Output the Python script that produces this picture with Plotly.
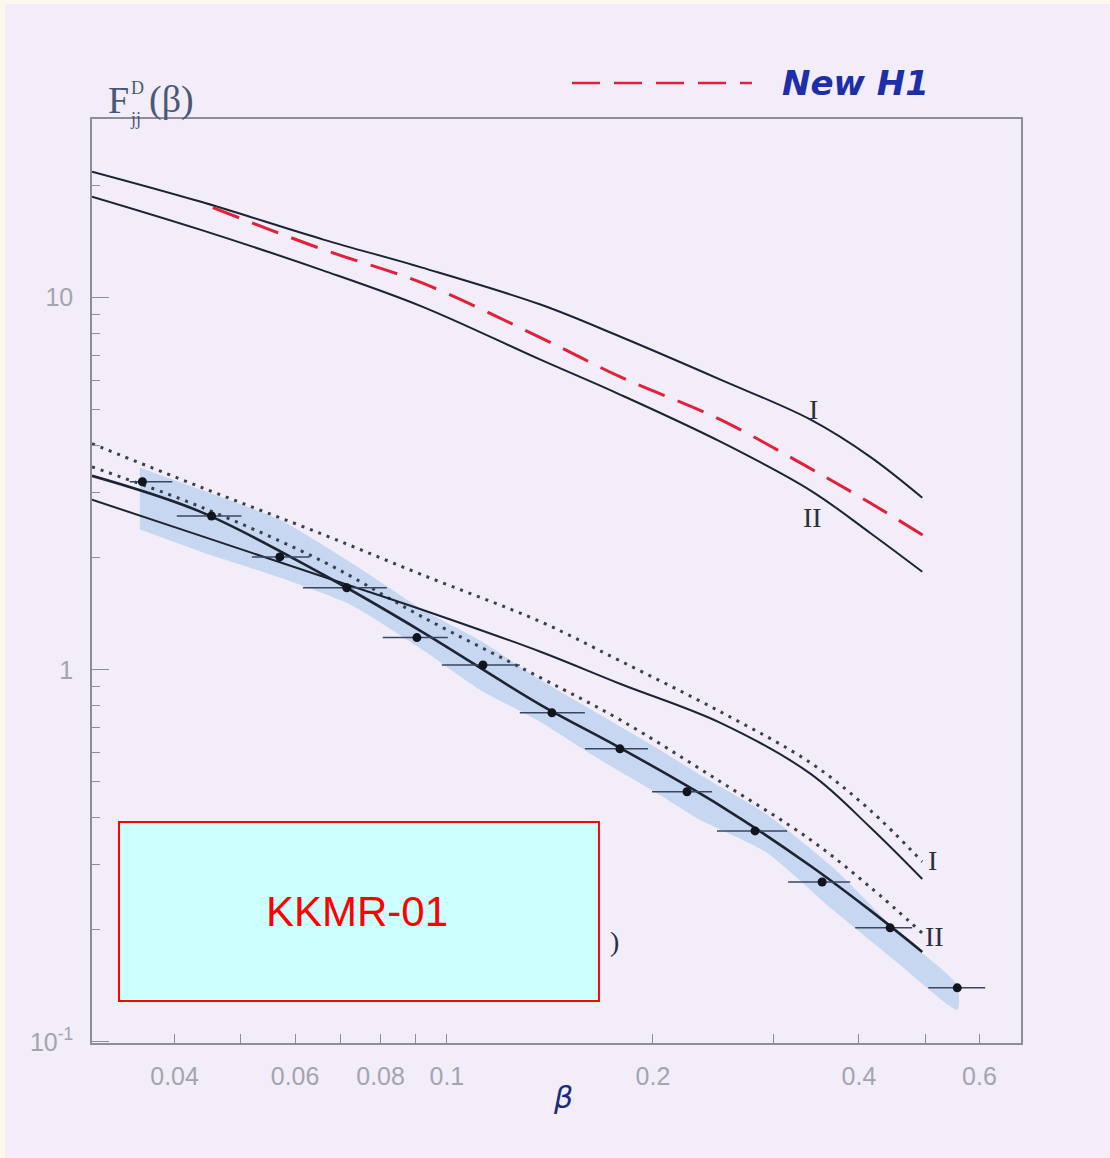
import math
import plotly.graph_objects as go

# ---------------- data ----------------
# theory curves (common beta grid)
beta_curve = [0.0303, 0.0436, 0.066, 0.092, 0.137, 0.179, 0.251, 0.34, 0.415, 0.495]
upper_I = [21.81, 18.12, 14.32, 12.04, 9.58, 7.86, 6.02, 4.70, 3.74, 2.90]
upper_II = [18.68, 15.23, 11.82, 9.46, 6.81, 5.49, 4.10, 3.03, 2.335, 1.834]
lower_dotted_I = [4.05, 3.10, 2.307, 1.800, 1.346, 1.057, 0.771, 0.562, 0.420, 0.305]
lower_solid_I = [2.864, 2.293, 1.778, 1.450, 1.118, 0.917, 0.720, 0.525, 0.378, 0.274]
lower_dotted_II = [3.51, 2.743, 1.951, 1.388, 0.952, 0.734, 0.500, 0.349, 0.261, 0.196]
lower_solid_II = [3.32, 2.66, 1.800, 1.265, 0.805, 0.617, 0.431, 0.297, 0.226, 0.1745]

# New H1 (red dashed)
beta_h1 = [0.0455, 0.066, 0.092, 0.137, 0.179, 0.251, 0.34, 0.415, 0.508]
new_h1 = [17.46, 13.46, 10.95, 7.81, 6.13, 4.70, 3.47, 2.81, 2.236]

# data points
beta_pts = [0.0359, 0.0453, 0.0570, 0.0714, 0.0904, 0.1129, 0.1424, 0.1790, 0.2243, 0.2820, 0.3534, 0.4443, 0.5568]
f_pts = [3.20, 2.59, 2.01, 1.66, 1.22, 1.03, 0.766, 0.613, 0.470, 0.369, 0.269, 0.2025, 0.1397]
beta_lo = [0.0344, 0.0403, 0.0519, 0.0616, 0.0806, 0.0983, 0.1278, 0.1591, 0.1994, 0.2481, 0.3152, 0.3950, 0.5050]
beta_hi = [0.0397, 0.0501, 0.0630, 0.0817, 0.1003, 0.1278, 0.1591, 0.1967, 0.2440, 0.3141, 0.3884, 0.4784, 0.6117]

# shaded uncertainty band
band_beta = [0.0356, 0.0436, 0.0570, 0.0721, 0.0922, 0.1117, 0.1368, 0.1674, 0.2048, 0.2343, 0.2937, 0.3667, 0.4595, 0.5568]
band_upper = [3.49, 3.05, 2.53, 1.95, 1.45, 1.20, 0.940, 0.757, 0.609, 0.522, 0.408, 0.294, 0.194, 0.142]
band_lower = [2.38, 2.08, 1.77, 1.50, 1.13, 0.884, 0.725, 0.573, 0.461, 0.395, 0.322, 0.226, 0.161, 0.122]

x_tickvals = [0.04, 0.06, 0.08, 0.1, 0.2, 0.4, 0.6]
x_ticktext = ["0.04", "0.06", "0.08", "0.1", "0.2", "0.4", "0.6"]
x_minor = [0.05, 0.07, 0.09, 0.3, 0.5]
y_tickvals = [0.1, 1, 10]
y_ticktext = ["10<sup>-1</sup>", "1", "10"]
y_minor = [0.2, 0.3, 0.4, 0.5, 0.6, 0.7, 0.8, 0.9, 2, 3, 4, 5, 6, 7, 8, 9, 20]

# ---------------- styling ----------------
BG = "#f2edf9"
INK = "#1c2333"
DOT = "#3a3f4c"
AXC = "#8c8c9a"
LBL = "#a4a4ae"

fig = go.Figure()

# band
fig.add_trace(go.Scatter(
    x=band_beta + band_beta[::-1], y=band_upper + band_lower[::-1],
    mode="lines", fill="toself", fillcolor="rgba(140,185,230,0.42)",
    line=dict(width=0, shape="spline", smoothing=0.6), hoverinfo="skip", showlegend=False))

def curve(x, y, color, width, dash="solid"):
    fig.add_trace(go.Scatter(x=x, y=y, mode="lines",
                             line=dict(color=color, width=width, dash=dash, shape="spline", smoothing=1.0),
                             showlegend=False, hoverinfo="skip"))

curve(beta_curve, upper_I, INK, 2)
curve(beta_curve, upper_II, INK, 2)
curve(beta_curve, lower_dotted_I, DOT, 3, "3px,6px")
curve(beta_curve, lower_dotted_II, DOT, 3, "3px,6px")
curve(beta_curve, lower_solid_I, INK, 2)
curve(beta_curve, lower_solid_II, INK, 2.6)
curve(beta_h1, new_h1, "#e0203c", 3, "28px,14px")

# data points with horizontal bin bars
fig.add_trace(go.Scatter(
    x=beta_pts, y=f_pts, mode="markers",
    marker=dict(color="#10141e", size=9),
    error_x=dict(type="data", symmetric=False,
                 array=[h - x for h, x in zip(beta_hi, beta_pts)],
                 arrayminus=[x - l for l, x in zip(beta_lo, beta_pts)],
                 thickness=1.5, width=0, color="#3a4660"),
    showlegend=False, hoverinfo="skip"))

L10 = math.log10
ann = [
    dict(x=L10(0.343), y=L10(5.0), text="I"),
    dict(x=L10(0.342), y=L10(2.56), text="II"),
    dict(x=L10(0.512), y=L10(0.308), text="I"),
    dict(x=L10(0.516), y=L10(0.1915), text="II"),
    dict(x=L10(0.1755), y=L10(0.186), text=")"),
]
annotations = []
for a in ann:
    annotations.append(dict(x=a["x"], y=a["y"], xref="x", yref="y", text=a["text"], showarrow=False,
                            xanchor="center", yanchor="middle",
                            font=dict(family="Liberation Serif", size=28, color="#2a2f3c")))

def pann(x, y, text, family, size, color, xanchor="center"):
    annotations.append(dict(x=x, y=y, xref="paper", yref="paper", showarrow=False, text=text,
                            xanchor=xanchor, yanchor="middle",
                            font=dict(family=family, size=size, color=color)))

# y-axis title F_jj^D(beta), built from pieces so sub/superscript stack
TCOL = "#4a5878"
pann(0.0150, 1.0206, "F", "Liberation Serif", 38, TCOL, "left")
pann(0.0400, 1.0340, "D", "Liberation Serif", 18, TCOL, "left")
pann(0.0390, 0.9995, "jj", "Liberation Serif", 18, TCOL, "left")
pann(0.0590, 1.0206, "(β)", "Liberation Serif", 38, TCOL, "left")

pann(0.507, -0.0595, "<i>β</i>", "DejaVu Sans", 30, "#1c2a80")
pann(0.822, 1.0395, "<b><i>New H1</i></b>", "DejaVu Sans", 34, "#1c2fa8")
pann(0.2853, 0.1418, "KKMR-01", "Liberation Sans", 42, "#ff0000")

shapes = [
    # cream scan border
    dict(type="rect", xref="paper", yref="paper", x0=-0.0991, x1=-0.0937, y0=-0.125, y1=1.13,
         fillcolor="#fbf9ec", line=dict(width=0), layer="below"),
    dict(type="rect", xref="paper", yref="paper", x0=-0.0991, x1=1.1, y0=1.1245, y1=1.13,
         fillcolor="#fbf9ec", line=dict(width=0), layer="below"),
    # legend dash line for New H1
    dict(type="line", xref="paper", yref="paper", x0=0.5167, x1=0.7104, y0=1.039, y1=1.039,
         line=dict(color="#e0203c", width=2.5, dash="28px,14px")),
    # KKMR-01 box
    dict(type="rect", xref="paper", yref="paper", x0=0.0291, x1=0.5457, y0=0.0455, y1=0.2392,
         fillcolor="#ccffff", line=dict(color="#ff0000", width=2), layer="above"),
]

axis_common = dict(type="log", showgrid=False, zeroline=False, showline=True, mirror=True,
                   linecolor=AXC, linewidth=1.5, ticks="inside", tickcolor=AXC, tickwidth=1.2,
                   tickfont=dict(family="Liberation Sans", size=25, color=LBL))

fig.update_layout(
    width=1110, height=1158,
    margin=dict(l=92, r=89, t=119, b=115),
    paper_bgcolor=BG, plot_bgcolor=BG,
    xaxis=dict(**axis_common, range=[L10(0.0303), L10(0.690)],
               tickvals=x_tickvals, ticktext=x_ticktext, ticklen=9, ticklabelstandoff=10,
               minor=dict(tickvals=x_minor, ticklen=9, ticks="inside", tickcolor=AXC, tickwidth=1.2)),
    yaxis=dict(**axis_common, range=[-1.003, 1.480],
               tickvals=y_tickvals, ticktext=y_ticktext, ticklen=17, ticklabelstandoff=12,
               minor=dict(tickvals=y_minor, ticklen=8, ticks="inside", tickcolor=AXC, tickwidth=1.2)),
    annotations=annotations,
    shapes=shapes,
    showlegend=False,
)

fig.write_html("out.html")
